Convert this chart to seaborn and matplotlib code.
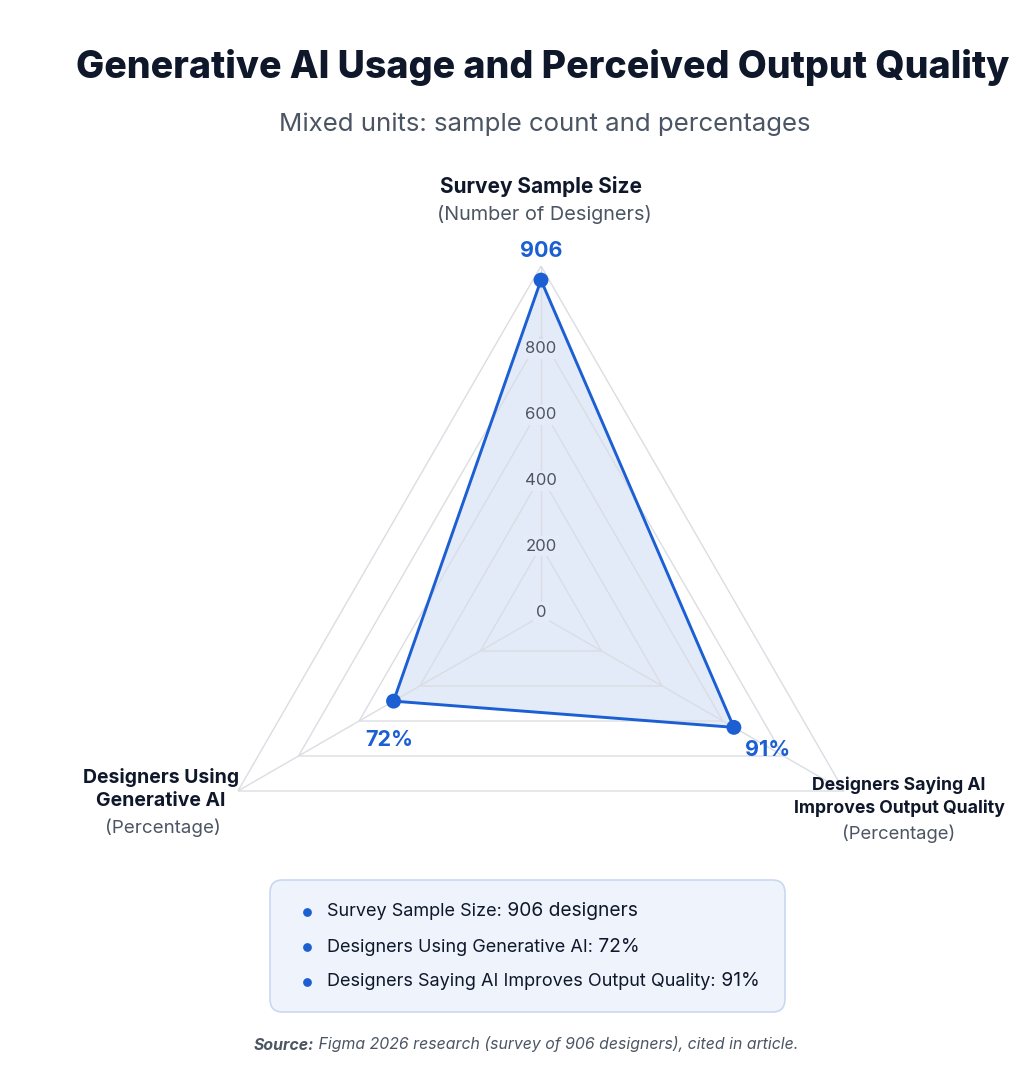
import numpy as np
import matplotlib
matplotlib.use("Agg")
import matplotlib.pyplot as plt
from matplotlib.patches import FancyBboxPatch
from matplotlib.lines import Line2D
import seaborn as sns

# Veriler
categories = ["Survey Sample Size", "Designers Using Generative AI",
              "Designers Saying AI Improves Output Quality"]
values = [906, 72, 91]
value_labels = ["906", "72%", "91%"]
axis_max = [944, 148, 143]          # her eksenin kendi ölçek üst sınırı
angles_deg = [0, 240, 120]          # üst, sol alt, sağ alt
ring_ticks = [0, 200, 400, 600, 800, 1000]
ring_tick_labels = ["0", "200", "400", "600", "800", ""]
legend_labels = ["Survey Sample Size:", "Designers Using Generative AI:",
                 "Designers Saying AI Improves Output Quality:"]
legend_values = ["906 designers", "72%", "91%"]

sns.set_theme(style="white")
plt.rcParams['font.family'] = ['Inter', 'DejaVu Sans']

W, H = 1024, 1084
BLUE = "#1b5fd2"
DARK = "#0f172a"
GREY = "#4b5563"
GRID = "#dadde2"


def px(x, y):
    return x / W, 1 - y / H


fig = plt.figure(figsize=(W / 100, H / 100), dpi=100)
fig.patch.set_facecolor("white")

# Radar ekseni: merkez (541, 616), dış yarıçap 350 px
cx, cy, R = 541, 616, 350
ax = fig.add_axes([(cx - R) / W, (H - cy - R) / H, 2 * R / W, 2 * R / H], projection="polar")
ax.set_theta_offset(np.pi / 2)
ax.set_theta_direction(-1)
ax.set_facecolor("none")

theta = np.deg2rad(angles_deg)
theta_closed = np.append(theta, theta[0])
ring_frac = np.array(ring_ticks) / ring_ticks[-1]

# Üçgen ızgara ve kollar
for f in ring_frac[1:]:
    ax.plot(theta_closed, [f] * len(theta_closed), color=GRID, lw=1, zorder=2)
for t in theta:
    ax.plot([t, t], [0, 1], color=GRID, lw=1, zorder=2)

# Veri poligonu
r = np.array(values) / np.array(axis_max)
r_closed = np.append(r, r[0])
ax.fill(theta_closed, r_closed, color=BLUE, alpha=0.12, lw=0, zorder=1)
ax.plot(theta_closed, r_closed, color=BLUE, lw=2.1, zorder=4)
sns.scatterplot(x=theta, y=r, ax=ax, color=BLUE, s=115, edgecolor="none", zorder=5, legend=False)
ax.set_xlabel("")
ax.set_ylabel("")
ax.set_ylim(0, 1)
ax.set_xticks([])
ax.set_yticks([])
ax.grid(False)
ax.spines["polar"].set_visible(False)

# Radyal etiketler (halkaların biraz içinde)
for f, lab in zip(ring_frac, ring_tick_labels):
    if lab:
        ax.text(0, 0.011 + 0.94 * f, lab, ha="center", va="center", fontsize=12, color=GREY, zorder=3,
                bbox=dict(boxstyle="square,pad=0.15", fc="#e5ecf8", ec="none"))

# Değer etiketleri
offsets = [(0, 21), (-3, -28), (24, -16)]
for t, rv, lab, off in zip(theta, r, value_labels, offsets):
    ax.annotate(lab, xy=(t, rv), xytext=off, textcoords="offset points", ha="center", va="center",
                fontsize=15.5, fontweight="bold", color=BLUE, annotation_clip=False, zorder=6)

# Eksen başlıkları
fig.text(*px(541, 187), "Survey Sample Size", ha="center", va="center", fontsize=15,
         fontweight="bold", color=DARK)
fig.text(*px(544, 214), "(Number of Designers)", ha="center", va="center", fontsize=14.3, color=GREY)
fig.text(*px(161, 789), "Designers Using\nGenerative AI", ha="center", va="center", fontsize=14,
         fontweight="bold", color=DARK, linespacing=1.3)
fig.text(*px(163, 828), "(Percentage)", ha="center", va="center", fontsize=13.5, color=GREY)
fig.text(*px(899, 797), "Designers Saying AI\nImproves Output Quality", ha="center", va="center",
         fontsize=12.7, fontweight="bold", color=DARK, linespacing=1.4)
fig.text(*px(899, 834), "(Percentage)", ha="center", va="center", fontsize=13.3, color=GREY)

# Başlıklar
fig.text(*px(543, 67), "Generative AI Usage and Perceived Output Quality", ha="center", va="center",
         fontsize=27, fontweight="heavy", color=DARK)
fig.text(*px(545, 124), "Mixed units: sample count and percentages", ha="center", va="center",
         fontsize=18.6, color=GREY)

# Açıklama kutusu
overlay = fig.add_axes([0, 0, 1, 1])
overlay.set_xlim(0, 1)
overlay.set_ylim(0, 1)
overlay.axis("off")
x0, y0 = px(270, 1012)
x1, y1 = px(785, 880)
overlay.add_patch(FancyBboxPatch((x0, y0), x1 - x0, y1 - y0, boxstyle="round,pad=0,rounding_size=0.012",
                                 fc="#eef3fc", ec="#c9d8f2", lw=1.2, transform=fig.transFigure))
for i, (lab, val) in enumerate(zip(legend_labels, legend_values)):
    yy = 912 + 35 * i
    fig.add_artist(Line2D([307 / W], [1 - yy / H], marker="o", ms=6.3, color=BLUE, mec="none",
                          transform=fig.transFigure))
    t1 = overlay.text(*px(327, yy), lab, ha="left", va="center", fontsize=13, color=DARK)
    overlay.annotate(" " + val, xy=(1, 0), xycoords=t1, ha="left", va="bottom", fontsize=13.8, color=DARK)

# Kaynak
s1 = overlay.text(*px(254, 1045), "Source:", ha="left", va="center", fontsize=11.4, color=GREY,
                  fontweight="bold", style="italic")
overlay.annotate(" Figma 2026 research (survey of 906 designers), cited in article.", xy=(1, 0),
                 xycoords=s1, ha="left", va="bottom", fontsize=11.4, color=GREY, style="italic")

fig.savefig("out.png", dpi=100, facecolor="white")
